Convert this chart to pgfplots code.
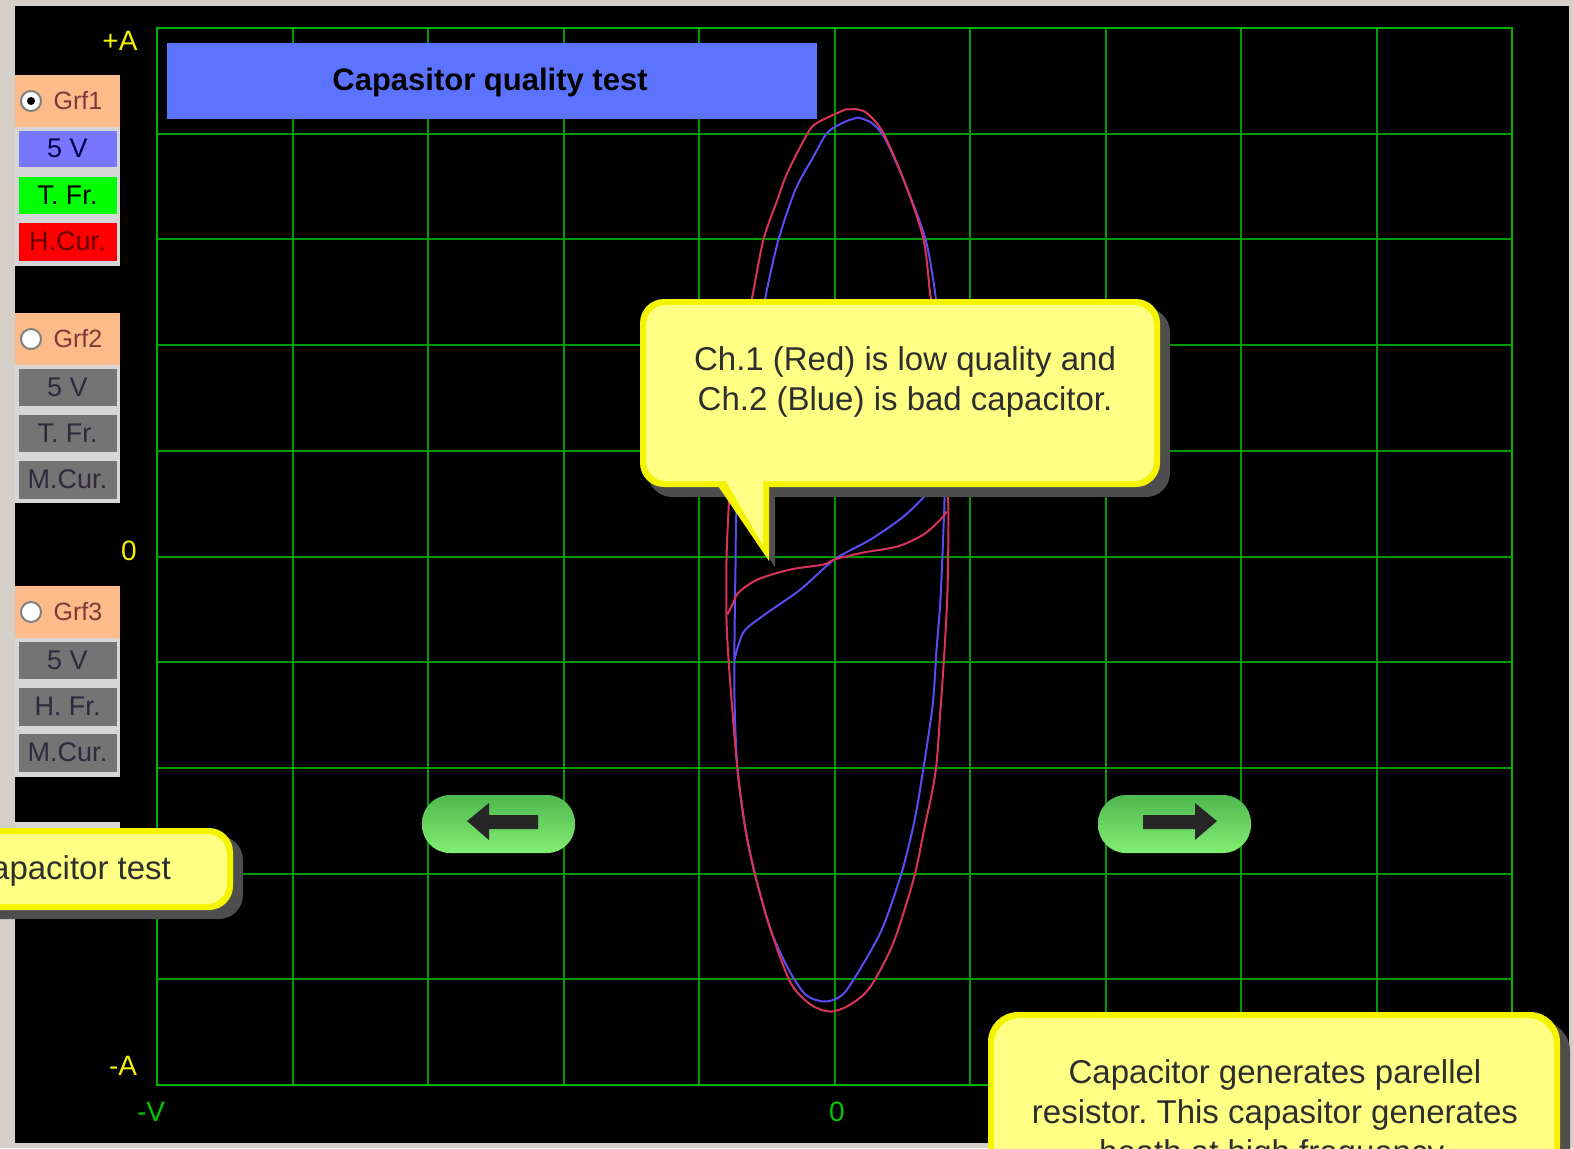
\documentclass[border=0pt]{standalone}
\usepackage{pgfplots}
\pgfplotsset{compat=1.18}
\usepackage{fontspec}
\setmainfont{Liberation Sans}
\frenchspacing

\definecolor{winbg}{HTML}{D4D0C8}
\definecolor{gridgreen}{HTML}{009A00}
\definecolor{framegreen}{HTML}{00B400}
\definecolor{titleblue}{HTML}{5B73FF}
\definecolor{peach}{HTML}{FDBB8A}
\definecolor{btnblue}{HTML}{7676FF}
\definecolor{btngray}{HTML}{747474}
\definecolor{btnedge}{HTML}{D6D6D6}
\definecolor{tipfill}{HTML}{FFFF84}
\definecolor{tipedge}{HTML}{F4F400}
\definecolor{tipshadow}{HTML}{4E4E4E}
\definecolor{redtrace}{HTML}{D8345A}
\definecolor{bluetrace}{HTML}{5A4CF0}
\definecolor{pillgreen}{HTML}{82EE72}
\definecolor{pilldark}{HTML}{4FB84F}
\definecolor{arrowdark}{HTML}{262626}
\definecolor{labyellow}{HTML}{F4F400}
\definecolor{labgreen}{HTML}{00C800}
\definecolor{grftext}{HTML}{7A3A3A}
\definecolor{graytext}{HTML}{30283C}
\definecolor{tiptext}{HTML}{2E2E2E}

\newcommand\pxfont[1]{\fontsize{#1}{#1}\selectfont}
% button: top, bottom, fill, text colour, text
\newcommand\btn[5]{%
  \fill[#3, draw=btnedge, line width=1.5pt] (17,#1) rectangle (118,#2);
  \node[text=#4, font=\pxfont{13.5}] at (67.5,{(#1+#2)/2}) {#5};}
% group header: top, bottom, text
\newcommand\hdr[3]{%
  \fill[peach] (15,#1) rectangle (120,#2);
  \fill[white, draw=gray, line width=1pt] (31,{(#1+#2)/2}) circle (5pt);
  \node[text=grftext, font=\pxfont{12.5}] at (78,{(#1+#2)/2}) {#3};}

\begin{document}
\begin{tikzpicture}
\useasboundingbox (0pt,0pt) rectangle (786.5pt,-574pt);
\clip (0pt,0pt) rectangle (786.5pt,-574pt);

\begin{scope}[x=0.5pt,y=-0.5pt]
  \fill[winbg] (0,0) rectangle (1573,1148);
  \fill[black] (15,6) rectangle (1569,1143);
\end{scope}

\begin{axis}[
  at={(78.5pt,-542.5pt)}, anchor=south west,
  scale only axis, width=677.5pt, height=528.5pt,
  xmin=-5, xmax=5, ymin=-5, ymax=5,
  xtick={-5,...,5}, ytick={-5,...,5},
  xticklabels={}, yticklabels={},
  major tick length=0pt,
  grid=major, grid style={gridgreen, line width=1pt},
  axis line style={framegreen, line width=1.2pt},
]
% Ch.2 (blue) loop and crossing branch
\addplot[bluetrace, line width=1pt, smooth, tension=0.5] coordinates {
  (0.177,4.153) (0.081,4.115) (-0.052,4.011) (-0.155,3.784) (-0.288,3.472)
  (-0.413,2.999) (-0.509,2.460) (-0.605,1.769) (-0.679,1.107) (-0.723,0.445)
  (-0.731,-0.123) (-0.738,-0.785) (-0.738,-1.353) (-0.716,-2.015) (-0.657,-2.583)
  (-0.583,-3.027) (-0.472,-3.529) (-0.339,-3.907) (-0.214,-4.144) (-0.081,-4.210)
  (0.030,-4.172) (0.118,-4.049) (0.339,-3.557) (0.487,-3.027) (0.576,-2.583)
  (0.635,-2.176) (0.723,-1.419) (0.753,-0.880) (0.782,-0.407) (0.804,0.255)
  (0.812,0.634) (0.797,1.296) (0.768,2.053) (0.745,2.469) (0.672,2.999)
  (0.524,3.519) (0.376,3.945) (0.280,4.097) (0.177,4.153)
};
\addplot[bluetrace, line width=1pt, smooth, tension=0.5] coordinates {
  (-0.738,-0.974) (-0.708,-0.833) (-0.657,-0.691) (-0.494,-0.530) (-0.251,-0.312)
  (0,-0.028) (0.266,0.161) (0.509,0.378) (0.694,0.615) (0.782,0.823) (0.805,1.0)
};
% Ch.1 (red) loop and crossing branch
\addplot[redtrace, line width=1pt, smooth, tension=0.5] coordinates {
  (0.081,4.229) (-0.125,4.106) (-0.199,4.002) (-0.347,3.633) (-0.421,3.377)
  (-0.524,2.999) (-0.605,2.469) (-0.694,1.864) (-0.753,1.201) (-0.782,0.445)
  (-0.797,-0.028) (-0.797,-0.596) (-0.782,-0.974) (-0.760,-1.353) (-0.716,-2.015)
  (-0.657,-2.583) (-0.583,-3.027) (-0.472,-3.529) (-0.325,-4.030) (-0.177,-4.238)
  (-0.030,-4.305) (0.118,-4.238) (0.266,-4.068) (0.435,-3.652) (0.583,-3.056)
  (0.657,-2.611) (0.745,-2.044) (0.782,-1.447) (0.812,-0.880) (0.834,-0.312)
  (0.841,0.350) (0.834,0.728) (0.819,1.296) (0.768,2.053) (0.708,2.469)
  (0.657,2.999) (0.524,3.519) (0.362,4.002) (0.251,4.182) (0.177,4.229) (0.081,4.229)
};
\addplot[redtrace, line width=1pt, smooth, tension=0.5] coordinates {
  (-0.790,-0.549) (-0.753,-0.454) (-0.708,-0.341) (-0.568,-0.218) (-0.325,-0.123)
  (-0.081,-0.076) (0,-0.028) (0.214,0.038) (0.465,0.095) (0.657,0.208)
  (0.782,0.350) (0.827,0.426)
};
\end{axis}

\begin{scope}[x=0.5pt,y=-0.5pt]
  % title bar
  \fill[titleblue] (167,43) rectangle (817,119);
  \node[font=\bfseries\pxfont{15.5}, anchor=base] at (490,90) {Capasitor quality test};

  % axis end labels
  \node[text=labyellow, font=\pxfont{14}] at (120,41) {+A};
  \node[text=labyellow, font=\pxfont{14}] at (129,551) {0};
  \node[text=labyellow, font=\pxfont{14}] at (123,1066) {-A};
  \node[text=labgreen, font=\pxfont{14}] at (151,1112) {-V};
  \node[text=labgreen, font=\pxfont{14}] at (837,1112) {0};

  % channel button groups
  \fill[btnedge] (15,75) rectangle (120,266);
  \hdr{75}{127}{Grf1}
  \fill[black] (31,101) circle (2pt);
  \btn{129}{168}{btnblue}{blue!30!black}{5 V}
  \btn{175}{215}{green}{black}{T. Fr.}
  \btn{221}{262}{red}{red!40!black}{H.Cur.}

  \fill[btnedge] (15,313) rectangle (120,503);
  \hdr{313}{365}{Grf2}
  \btn{367}{407}{btngray}{graytext}{5 V}
  \btn{413}{453}{btngray}{graytext}{T. Fr.}
  \btn{459}{500}{btngray}{graytext}{M.Cur.}

  \fill[btnedge] (15,586) rectangle (120,777);
  \hdr{586}{638}{Grf3}
  \btn{640}{680}{btngray}{graytext}{5 V}
  \btn{686}{727}{btngray}{graytext}{H. Fr.}
  \btn{732}{773}{btngray}{graytext}{M.Cur.}

  \fill[btnedge] (15,822) rectangle (120,840);

  % arrow buttons
  \shade[top color=pilldark, bottom color=pillgreen, rounded corners=14pt] (422,795) rectangle (575,853);
  \fill[arrowdark] (467,821) -- (489,803) -- (489,815) -- (538,815) -- (538,829) -- (489,829) -- (489,840) -- cycle;
  \shade[top color=pilldark, bottom color=pillgreen, rounded corners=14pt] (1098,795) rectangle (1251,853);
  \fill[arrowdark] (1217,821) -- (1195,803) -- (1195,815) -- (1143,815) -- (1143,829) -- (1195,829) -- (1195,840) -- cycle;

  % callout over the traces
  \fill[tipshadow, rounded corners=12pt] (648,308) rectangle (1170,497);
  \fill[tipshadow] (728,497) -- (775,497) -- (775,567) -- cycle;
  \fill[tipedge, rounded corners=12pt] (640,299) rectangle (1160,487);
  \fill[tipedge] (714,480) -- (769,480) -- (769,561) -- cycle;
  \fill[tipfill, rounded corners=10pt] (646,305) rectangle (1154,481);
  \fill[tipfill] (724,478) -- (763,478) -- (763,545) -- cycle;
  \node[font=\pxfont{16.5}, text=tiptext, anchor=base] at (905,370) {Ch.1 (Red) is low quality and};
  \node[font=\pxfont{16.5}, text=tiptext, anchor=base] at (905,410) {Ch.2 (Blue) is bad capacitor.};

  % callout at the left
  \fill[tipshadow, rounded corners=12pt] (-30,836) rectangle (243,919);
  \fill[tipedge, rounded corners=12pt] (-40,828) rectangle (233,910);
  \fill[tipfill, rounded corners=10pt] (-34,834) rectangle (227,904);
  \node[font=\pxfont{16.5}, text=tiptext, anchor=base east] at (178,879) {Capacitor test};

  % callout at the bottom right
  \fill[tipshadow, rounded corners=15pt] (997,1021) rectangle (1570,1210);
  \fill[tipedge, rounded corners=15pt] (988,1012) rectangle (1560,1200);
  \fill[tipfill, rounded corners=13pt] (994,1018) rectangle (1554,1194);
  \node[font=\pxfont{16.5}, text=tiptext, anchor=base] at (1275,1083) {Capacitor generates parellel};
  \node[font=\pxfont{16.5}, text=tiptext, anchor=base] at (1275,1123) {resistor. This capasitor generates};
  \node[font=\pxfont{16.5}, text=tiptext, anchor=base] at (1275,1163) {heath at high frequency.};
\end{scope}
\end{tikzpicture}
\end{document}
